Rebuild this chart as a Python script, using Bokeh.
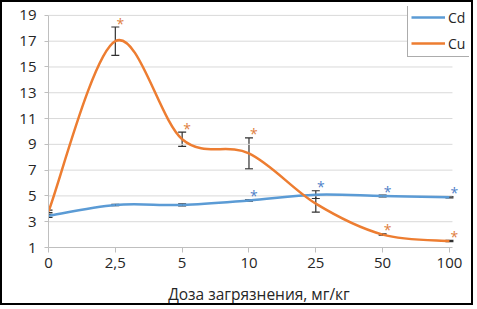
from bokeh.plotting import figure
from bokeh.models import (Range1d, FixedTicker, ColumnDataSource, Whisker, TeeHead,
                          Legend, LegendItem)
from bokeh.core.properties import value
from bokeh.embed import file_html
from bokeh.resources import INLINE

# ---- data ----
doses = ["0", "2,5", "5", "10", "25", "50", "100"]
cd_vals = [3.45, 4.3, 4.3, 4.65, 5.1, 5.0, 4.9]
cd_err = [0.12, 0.05, 0.08, 0.05, 0.3, 0.07, 0.05]
cd_star = [False, False, False, True, True, True, True]
cu_vals = [3.8, 17.0, 9.4, 8.3, 4.4, 2.0, 1.5]
cu_err = [0.1, 1.1, 0.55, 1.2, 0.65, 0.05, 0.05]
cu_star = [False, True, True, True, False, True, True]
y_ticks = [1, 3, 5, 7, 9, 11, 13, 15, 17, 19]
x_title = "Доза загрязнения, мг/кг"

CD_COLOR = "#5b9bd5"
CU_COLOR = "#ed7d31"
FONT = "Open Sans"

xs = list(range(len(doses)))
X_END = 6.045          # right end of the plotting area (category units)
Y_MIN, Y_MAX = y_ticks[0], y_ticks[-1]

p = figure(width=473, height=305, output_backend="svg", toolbar_location=None,
           x_range=Range1d(0, 6.3), y_range=Range1d(Y_MIN, 19.69),
           min_border_left=46, min_border_right=6, min_border_top=4, min_border_bottom=57)
p.styles = {"border": "2px solid black"}
p.outline_line_color = None
p.background_fill_color = "white"
p.border_fill_color = "white"

# axes
p.xaxis.ticker = FixedTicker(ticks=xs)
p.xaxis.major_label_overrides = {i: d for i, d in enumerate(doses)}
p.xaxis.bounds = (0, X_END)
p.yaxis.ticker = FixedTicker(ticks=y_ticks)
p.yaxis.bounds = (Y_MIN, Y_MAX)
for ax in (p.xaxis, p.yaxis):
    ax.axis_line_color = "#bfbfbf"
    ax.major_tick_line_color = "#bfbfbf"
    ax.minor_tick_line_color = None
    ax.major_tick_in = 0
    ax.major_label_text_font = FONT
    ax.major_label_text_font_size = "15px"
    ax.major_label_text_color = "#262626"
p.xaxis.major_tick_out = 5
p.yaxis.major_tick_out = 4
p.xaxis.major_label_standoff = 5
p.yaxis.major_label_standoff = 8
p.xaxis.axis_label = x_title
p.xaxis.axis_label_text_font = FONT
p.xaxis.axis_label_text_font_size = "15.5px"
p.xaxis.axis_label_text_font_style = "normal"
p.xaxis.axis_label_text_color = "#262626"
p.xaxis.axis_label_standoff = 12
p.xgrid.grid_line_color = None
p.ygrid.grid_line_color = None

# horizontal gridlines limited to the plotting area
grid_y = y_ticks[1:]
p.segment(x0=[0] * len(grid_y), x1=[X_END] * len(grid_y), y0=grid_y, y1=grid_y,
          line_color="#d9d9d9", line_width=1)


def smooth(vals):
    n = len(vals)
    x0, y0, x1, y1, cx0, cy0, cx1, cy1 = [], [], [], [], [], [], [], []
    for i in range(n - 1):
        pm = vals[i - 1] if i > 0 else vals[i]
        xm = xs[i - 1] if i > 0 else xs[i]
        pp = vals[i + 2] if i + 2 < n else vals[i + 1]
        xp = xs[i + 2] if i + 2 < n else xs[i + 1]
        x0.append(xs[i]); y0.append(vals[i])
        x1.append(xs[i + 1]); y1.append(vals[i + 1])
        cx0.append(xs[i] + (xs[i + 1] - xm) / 6); cy0.append(vals[i] + (vals[i + 1] - pm) / 6)
        cx1.append(xs[i + 1] - (xp - xs[i]) / 6); cy1.append(vals[i + 1] - (pp - vals[i]) / 6)
    return dict(x0=x0, y0=y0, x1=x1, y1=y1, cx0=cx0, cy0=cy0, cx1=cx1, cy1=cy1)


items = []
for name, vals, errs, stars, color, star_color in (
        ("Cd", cd_vals, cd_err, cd_star, CD_COLOR, "#4f7fc8"),
        ("Cu", cu_vals, cu_err, cu_star, CU_COLOR, "#e0803e")):
    r = p.bezier(source=ColumnDataSource(smooth(vals)), x0="x0", y0="y0", x1="x1", y1="y1",
                 cx0="cx0", cy0="cy0", cx1="cx1", cy1="cy1",
                 line_color=color, line_width=2.5)
    items.append(LegendItem(label=name, renderers=[r]))
    esrc = ColumnDataSource(dict(x=xs, lo=[v - e for v, e in zip(vals, errs)],
                                 hi=[v + e for v, e in zip(vals, errs)]))
    w = Whisker(source=esrc, base="x", lower="lo", upper="hi", line_color="#303030",
                line_width=1.2,
                upper_head=TeeHead(size=8, line_color="#303030", line_width=1.2),
                lower_head=TeeHead(size=8, line_color="#303030", line_width=1.2))
    p.add_layout(w)
    sx = [x for x, s in zip(xs, stars) if s]
    sy = [v + e for v, e, s in zip(vals, errs, stars) if s]
    p.text(x=sx, y=sy, text=["*"] * len(sx), x_offset=5, y_offset=-4,
           text_font=value(FONT), text_font_size="14px", text_color=star_color,
           text_align="center", text_baseline="middle")

legend = Legend(items=items, location=(359, 190), orientation="vertical",
                padding=3, spacing=6, margin=0, glyph_width=34, glyph_height=20,
                label_height=20, label_standoff=3,
                label_text_font=FONT, label_text_font_size="14px", label_text_color="#262626",
                border_line_color="#595959", border_line_width=1,
                background_fill_color="white", background_fill_alpha=1)
p.add_layout(legend)

open("out.html", "w").write(file_html(p, INLINE))
